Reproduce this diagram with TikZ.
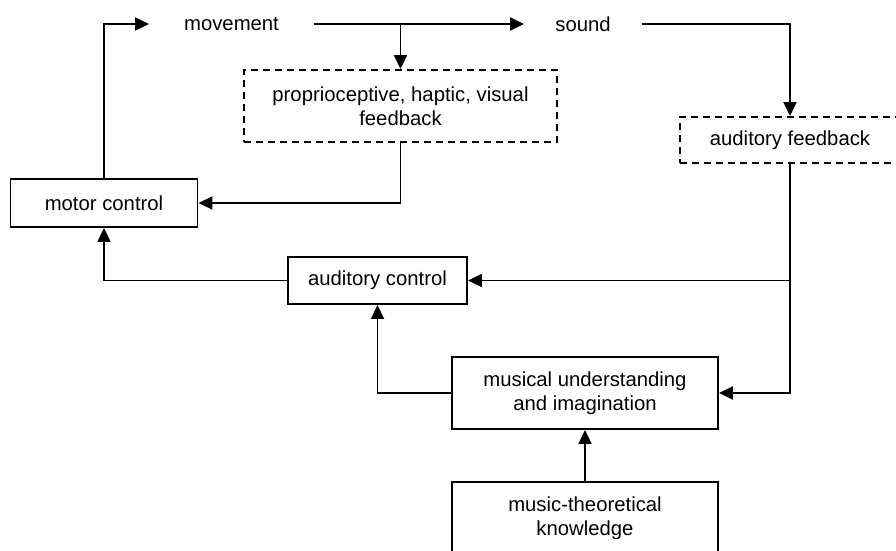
\documentclass[tikz,border=0pt]{standalone}
\usepackage{fontspec}
\setmainfont{Liberation Sans}
\usepackage{tikz}
\usetikzlibrary{arrows.meta,calc}

\begin{document}
\begin{tikzpicture}[->,>={Triangle[length=14pt,width=13pt]},x=1pt,y=-1pt,
                    line width=1.9pt,font=\fontsize{20.3}{24}\selectfont]
  \tikzstyle{block}=[rectangle,draw=black,fill=white,align=center,inner sep=0pt]
  \tikzstyle{feedback}=[block,dash pattern=on 7pt off 5pt]
  \tikzstyle{signal}=[inner sep=0pt,minimum height=30pt]

  \useasboundingbox (0,0) rectangle (896,550);

  \node[signal,minimum width=163pt] (move)   at (231.5,24)  {movement};
  \node[signal,minimum width=116pt] (sound)  at (583,24)    {sound};
  \node[feedback,minimum width=313pt,minimum height=72pt] (prop) at (400.5,106)
        {proprioceptive, haptic, visual\\feedback};
  \node[feedback,minimum width=220pt,minimum height=46pt] (afb)  at (790,140)
        {auditory feedback};
  \node[block,minimum width=187pt,minimum height=48pt] (motor)  at (104,203)
        {motor control};
  \node[block,minimum width=179pt,minimum height=47pt] (actl)   at (377.5,280.5)
        {auditory control};
  \node[block,minimum width=266pt,minimum height=72pt] (mus)    at (585,393)
        {musical understanding\\and imagination};
  \node[block,minimum width=266pt,minimum height=72pt] (theory) at (585,518)
        {music-theoretical\\knowledge};

  \draw (motor.north) |- (move.west);
  \draw (move.east) -- (sound.west);
  \draw (prop.north |- move.east) -- (prop.north);
  \draw (sound.east) -| (afb.north);
  \draw (prop.south) |- (motor.east);
  \draw (afb.south) |- (actl.east);
  \draw (afb.south) |- (mus.east);
  \draw (actl.west) -| (motor.south);
  \draw (mus.west) -| (actl.south);
  \draw (theory.north) -- (mus.south);
\end{tikzpicture}
\end{document}
